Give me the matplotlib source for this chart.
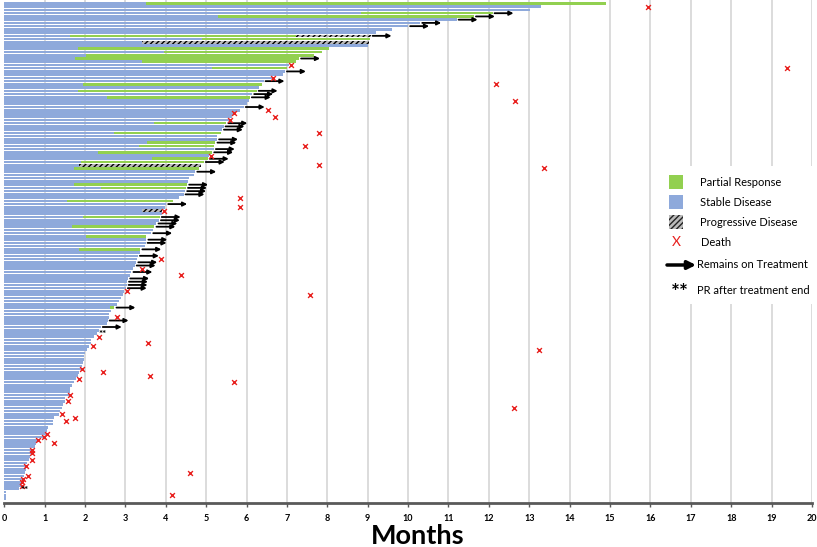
import numpy as np
import matplotlib
matplotlib.use('Agg')
import matplotlib.pyplot as plt
from matplotlib.patches import Rectangle

plt.rcParams['font.family'] = ['Lato', 'DejaVu Sans']
plt.rcParams['hatch.linewidth'] = 1.0

# ---- data (months), one entry per patient, top to bottom ----
# end of stable disease (or start of the following segment)
sd_end = [3.5, 13.3, 13.03, 8.83, 5.3, 11.2, 10.3, 10.0, 9.6, 9.2,
          1.63, 4.9, 3.4, 9.0, 1.82, 3.96, 2.02, 1.75, 3.41, 7.05,
          5.15, 6.95, 6.9, 6.65, 6.42, 1.95, 6.3, 1.82, 6.14, 2.55,
          6.07, 6.0, 5.93, 5.85, 5.66, 5.64, 5.58, 3.7, 5.43, 5.39,
          2.72, 5.27, 5.27, 3.54, 3.33, 5.19, 2.33, 5.06, 3.66, 1.89,
          1.85, 1.73, 4.73, 4.69, 4.57, 4.55, 1.73, 2.39, 4.48, 4.44,
          4.34, 1.55, 4.01, 3.97, 3.4, 3.91, 1.96, 3.83, 3.77, 1.69,
          3.68, 3.64, 2.02, 3.52, 3.5, 3.48, 1.86, 3.35, 3.31, 3.29,
          3.27, 3.23, 3.19, 3.15, 3.11, 3.07, 3.04, 3.03, 3.01, 2.96,
          2.93, 2.9, 2.83, 2.8, 2.63, 2.65, 2.6, 2.59, 2.56, 2.55,
          2.39, 2.34, 2.29, 2.23, 2.16, 2.15, 2.1, 2.04, 2.0, 1.98,
          1.97, 1.96, 1.92, 1.9, 1.84, 1.83, 1.78, 1.72, 1.68, 1.64,
          1.64, 1.6, 1.5, 1.5, 1.45, 1.43, 1.38, 1.35, 1.24, 1.22,
          1.22, 1.08, 1.06, 1.04, 0.97, 0.81, 0.78, 0.76, 0.72, 0.67,
          0.64, 0.62, 0.57, 0.56, 0.54, 0.52, 0.48, 0.46, 0.45, 0.41,
          0.37, 0.05, 0.05, 0.05]

# partial response segments (row -> end month), start = sd_end
pr_rows = [0, 3, 4, 10, 11, 14, 15, 16, 17, 18, 20, 25, 27, 29, 37, 40, 43,
           44, 46, 48, 49, 51, 56, 57, 61, 66, 69, 72, 76, 94]
pr_end = [14.9, 12.09, 11.63, 7.22, 9.05, 8.05, 7.88, 7.68, 7.3, 7.22, 7.0,
          6.38, 6.25, 6.08, 5.5, 5.37, 5.23, 5.19, 5.15, 5.04, 4.94, 4.82,
          4.53, 4.5, 4.18, 3.85, 3.72, 3.52, 3.37, 2.73]

# progressive disease segments
pd_rows = [10, 12, 50, 64]
pd_start = [7.22, 3.4, 1.85, 3.4]
pd_end = [9.07, 9.03, 4.88, 3.91]

# remains on treatment
on_treatment = [3, 4, 5, 6, 7, 10, 17, 21, 24, 27, 28, 29, 32, 37, 38, 39,
                42, 43, 45, 46, 48, 49, 52, 56, 57, 58, 59, 62, 66, 67, 68,
                69, 71, 73, 74, 76, 78, 80, 81, 83, 85, 86, 87, 88, 94, 98,
                100]

# deaths
death_rows = [1, 19, 20, 23, 25, 30, 33, 34, 35, 36, 40, 44, 47, 50, 51, 60,
              63, 64, 79, 82, 84, 89, 90, 97, 103, 105, 106, 107, 113, 114,
              115, 116, 117, 121, 123, 125, 127, 128, 129, 133, 134, 135, 136,
              138, 139, 141, 143, 145, 146, 147, 148, 149, 152]
death_month = [15.93, 7.09, 19.38, 6.66, 12.18, 12.65, 6.52, 5.7, 6.71, 5.6,
               7.8, 7.45, 5.12, 7.8, 13.37, 5.84, 5.84, 3.95, 3.87, 3.4, 4.38,
               3.05, 7.57, 2.8, 2.35, 3.56, 2.2, 13.25, 1.93, 2.45, 3.6, 1.86,
               5.7, 1.62, 1.58, 12.63, 1.43, 1.76, 1.53, 1.06, 0.99, 0.84,
               1.23, 0.69, 0.69, 0.69, 0.53, 4.6, 0.58, 0.47, 0.45, 0.43, 4.15]

# PR after treatment end
star_rows = [102, 150]
star_month = [2.45, 0.5]

months = list(range(0, 21))

green = '#92D050'
blue = '#8EA9DB'

n = len(sd_end)
rows = np.arange(n)

fig = plt.figure(figsize=(8.17, 5.47), dpi=100)
ax = fig.add_axes([4.2 / 817, 44 / 547, (812 - 4.2) / 817, 503 / 547])

# vertical grid
for m in months[1:]:
    ax.axvline(m, color='#D9D9D9', lw=1.3, zorder=0)

h = 0.8
ax.barh(rows, sd_end, height=h, color=blue, zorder=2)
pr_start = [sd_end[r] for r in pr_rows]
ax.barh(pr_rows, np.array(pr_end) - np.array(pr_start), left=pr_start,
        height=h, color=green, zorder=2)
ax.barh(pd_rows, np.array(pd_end) - np.array(pd_start), left=pd_start,
        height=h, facecolor='#BBBBBB', edgecolor='black', hatch='//////',
        lw=0, zorder=3)

# bar end per row
bar_end = list(sd_end)
for r, e in zip(pr_rows, pr_end):
    bar_end[r] = max(bar_end[r], e)
for r, e in zip(pd_rows, pd_end):
    bar_end[r] = max(bar_end[r], e)

for r in on_treatment:
    x0 = bar_end[r] + 0.05
    ax.annotate('', xy=(x0 + 0.47, r), xytext=(x0, r),
                arrowprops=dict(arrowstyle='-|>', color='black', lw=1.3,
                                mutation_scale=6, shrinkA=0, shrinkB=0),
                zorder=4)

ax.scatter(death_month, death_rows, marker='x', s=12, linewidths=1.0,
           color='#E8201E', zorder=5)

for r, m in zip(star_rows, star_month):
    ax.text(m, r + 0.4, '**', fontsize=7, fontweight='bold', ha='center',
            va='center', color='black', zorder=5)

ax.set_xlim(0, 20)
ax.set_ylim((503 - 3.5) / 3.235, -3.5 / 3.235)
ax.set_xticks(months)
ax.set_xticklabels([str(m) for m in months], fontsize=6.5, fontweight='bold')
ax.tick_params(axis='x', length=3, width=1, color='#595959', pad=5)
ax.set_yticks([])
for s in ['left', 'top', 'right']:
    ax.spines[s].set_visible(False)
ax.spines['bottom'].set_color('#595959')
ax.spines['bottom'].set_linewidth(2)

fig.text(418 / 817, 1 - 536 / 547, 'Months', fontsize=19.5, fontweight='bold',
         ha='center', va='center')

# legend drawn in pixel coordinates
lg = fig.add_axes([0, 0, 1, 1])
lg.set_xlim(0, 817)
lg.set_ylim(547, 0)
lg.axis('off')
lg.add_patch(Rectangle((662, 166), 150, 138, facecolor='white', lw=0))
lg.add_patch(Rectangle((669, 175), 14, 14, facecolor=green, lw=0))
lg.add_patch(Rectangle((669, 195), 14, 14, facecolor=blue, lw=0))
lg.add_patch(Rectangle((669, 215), 14, 14, facecolor='#BBBBBB',
                       edgecolor='#222222', hatch='//////', lw=0))
lg.text(676, 242, 'X', color='#E8201E', fontsize=10, ha='center', va='center')
lg.annotate('', xy=(696, 265), xytext=(667, 265),
            arrowprops=dict(arrowstyle='-|>', color='black', lw=2.5,
                            mutation_scale=12, shrinkA=0, shrinkB=0))
lg.text(680, 293, '**', fontsize=15, fontweight='bold', ha='center',
        va='center')
labels = ['Partial Response', 'Stable Disease', 'Progressive Disease', 'Death',
          'Remains on Treatment', 'PR after treatment end']
label_x = [700, 700, 700, 701, 697, 697]
label_y = [182, 202, 222, 242, 265, 290]
for t, x, y in zip(labels, label_x, label_y):
    lg.text(x, y, t, fontsize=8, ha='left', va='center')

fig.savefig('out.png', dpi=100)
